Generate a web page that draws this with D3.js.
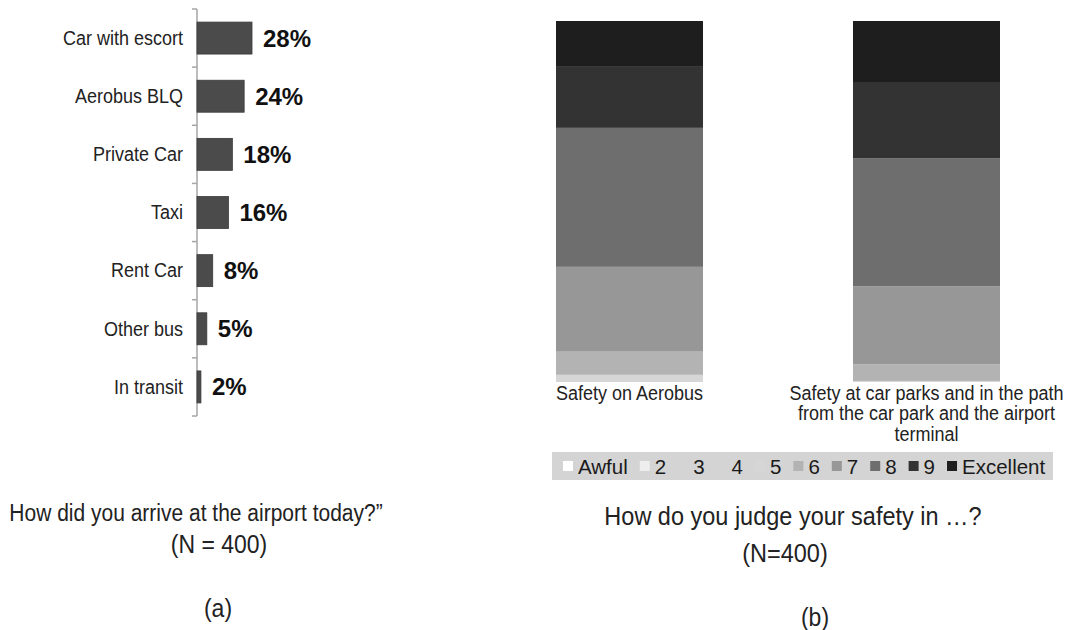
<!DOCTYPE html>
<html>
<head>
<meta charset="utf-8">
<script src="https://cdn.jsdelivr.net/npm/d3@7"></script>
<style>
  body { margin: 0; background: #fff; }
  svg { display: block; font-family: "Liberation Sans", Arial, sans-serif; }
</style>
</head>
<body>
<svg id="chart" width="1068" height="630"></svg>
<script>
// (a) arrival mode
var modes = ["Car with escort", "Aerobus BLQ", "Private Car", "Taxi", "Rent Car", "Other bus", "In transit"];
var modeShare = [28, 24, 18, 16, 8, 5, 2];

// (b) safety judgement, % of answers per level
var safetyItems = ["Safety on Aerobus", "Safety at car parks and in the path|from the car park and the airport|terminal"];
var levels = ["Awful", "2", "3", "4", "5", "6", "7", "8", "9", "Excellent"];
var safetyAerobus = [0, 0, 0, 0, 2.0, 6.4, 23.5, 38.5, 16.9, 12.7];
var safetyCarPark = [0, 0, 0, 0, 0.3, 4.6, 21.6, 35.5, 21.1, 16.9];
var levelColors = ["#ffffff", "#eeeeee", "#d4d4d4", "#d4d4d4", "#d6d6d6", "#b3b3b3", "#979797", "#6e6e6e", "#333333", "#1e1e1e"];

var svg = d3.select("#chart");

// source text is a bit taller than Liberation Sans, so stretch it vertically
var SY = 1.1;
function label(parent, x, y, txt, size, anchor) {
  return parent.append("text")
    .attr("transform", "translate(" + x + "," + y + ") scale(1," + SY + ")")
    .attr("text-anchor", anchor || "middle")
    .attr("dominant-baseline", "central")
    .attr("font-size", size)
    .attr("fill", "#222")
    .text(txt);
}

// ---------- left chart ----------
var axisX = 197;
var y = d3.scaleBand()
  .domain(modes)
  .range([9, 416])
  .paddingInner(0.45)
  .paddingOuter(0.225);
var x = d3.scaleLinear().domain([0, 28]).range([axisX, 252]);

var left = svg.append("g");

// axis line + ticks between categories
left.append("line")
  .attr("x1", axisX).attr("x2", axisX)
  .attr("y1", 9).attr("y2", 416)
  .attr("stroke", "#a6a6a6").attr("stroke-width", 1.5);
var tickYs = d3.range(modes.length + 1).map(i => 9 + i * y.step());
left.selectAll(".tick").data(tickYs).enter().append("line")
  .attr("x1", axisX - 5).attr("x2", axisX)
  .attr("y1", d => d).attr("y2", d => d)
  .attr("stroke", "#a6a6a6").attr("stroke-width", 1.5);

left.selectAll(".bar").data(modes).enter().append("rect")
  .attr("x", axisX)
  .attr("y", d => y(d))
  .attr("width", (d, i) => x(modeShare[i]) - axisX)
  .attr("height", y.bandwidth())
  .attr("fill", "#4b4b4b")
  .attr("stroke", "#3a3a3a").attr("stroke-width", 0.8);

modes.forEach(d => label(left, 183, y(d) + y.bandwidth() / 2, d, 18, "end"));

left.selectAll(".val").data(modes).enter().append("text")
  .attr("x", (d, i) => x(modeShare[i]) + 11)
  .attr("y", d => y(d) + y.bandwidth() / 2)
  .attr("dominant-baseline", "central")
  .attr("font-size", 24)
  .attr("font-weight", "bold")
  .attr("fill", "#111")
  .text((d, i) => modeShare[i] + "%");

label(left, 196, 513, "How did you arrive at the airport today?\u201d", 21);
label(left, 219, 544, "(N = 400)", 23);
label(left, 218, 608, "(a)", 23);

// ---------- right chart ----------
var right = svg.append("g");
var bx = d3.scaleBand().domain(safetyItems).range([556, 1000]).paddingInner(0.505).paddingOuter(0);
var by = d3.scaleLinear().domain([0, 100]).range([382, 21]);

var table = safetyItems.map((name, i) => {
  var vals = i === 0 ? safetyAerobus : safetyCarPark;
  var row = { name: name };
  levels.forEach((l, j) => { row[l] = vals[j]; });
  return row;
});
var stacked = d3.stack().keys(levels)(table);

right.selectAll(".layer").data(stacked).enter().append("g")
  .attr("fill", (d, i) => levelColors[i])
  .selectAll("rect").data(d => d).enter().append("rect")
  .attr("x", d => bx(d.data.name))
  .attr("width", bx.bandwidth())
  .attr("y", d => by(d[1]))
  .attr("height", d => by(d[0]) - by(d[1]));

safetyItems.forEach(d => {
  d.split("|").forEach((line, k) => {
    label(right, bx(d) + bx.bandwidth() / 2, 393 + k * 20.5, line, 18);
  });
});

// legend
var lg = right.append("g");
lg.append("rect").attr("x", 552).attr("y", 452).attr("width", 501).attr("height", 28).attr("fill", "#d4d4d4");
var lx = 563;
levels.forEach((l, i) => {
  lg.append("rect").attr("x", lx).attr("y", 461).attr("width", 10).attr("height", 10).attr("fill", levelColors[i]);
  var t = lg.append("text").attr("x", lx + 15).attr("y", 466)
    .attr("dominant-baseline", "central")
    .attr("font-size", 20.5).attr("fill", "#1a1a1a")
    .text(l);
  lx += 15 + t.node().getComputedTextLength() + 12;
});

label(right, 793, 516, "How do you judge your safety in \u2026?", 23.5);
label(right, 785, 553, "(N=400)", 23.5);
label(right, 815, 617, "(b)", 23);
</script>
</body>
</html>
